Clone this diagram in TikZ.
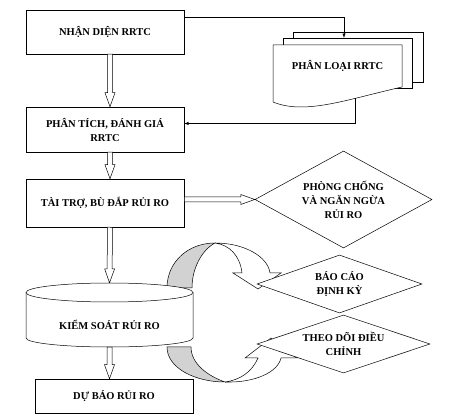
\documentclass[tikz,border=0pt]{standalone}
\usepackage{fontspec}
\setmainfont{Liberation Serif}
\usetikzlibrary{arrows,calc,shapes.geometric}

\tikzset{
  box/.style={draw,line width=0.5pt,fill=white,minimum width=158pt,align=center,
    inner sep=2pt,font=\bfseries\fontsize{10.5}{14}\selectfont},
  choice/.style={draw,diamond,line width=0.5pt,fill=white,align=center,inner sep=1pt,
    font=\bfseries\fontsize{10.5}{14}\selectfont},
  hollow/.style={draw,fill=white,line width=0.5pt},
  band/.style={draw,line width=0.5pt}
}

% open double-line arrow from #1 to #2
\newcommand{\hollowarrow}[2]{%
  \path[hollow] let \p1=(#1), \p2=(#2), \n1={atan2(\y2-\y1,\x2-\x1)},
    \n2={veclen(\x2-\x1,\y2-\y1)} in [shift={(\p2)},rotate=\n1]
    (0pt,0pt) -- (-14pt,5pt) -- (-14pt,2.5pt) -- (-\n2,2.5pt) -- (-\n2,-2.5pt)
    -- (-14pt,-2.5pt) -- (-14pt,-5pt) -- cycle;}

\begin{document}
\begin{tikzpicture}[x=1pt,y=-1pt]
\useasboundingbox (0,0) rectangle (461,419);

\node[box,minimum height=44pt] (nhandien) at (105,32) {NHẬN DIỆN RRTC};
\node[box,minimum height=45pt] (phantich) at (105,129.5) {PHÂN TÍCH, ĐÁNH GIÁ\\RRTC};
\node[box,minimum height=48pt] (taitro) at (105,203) {TÀI TRỢ, BÙ ĐẮP RỦI RO};
\node[box,minimum height=34pt] (dubao) at (114,396) {DỰ BÁO RỦI RO};

% stacked pages
\filldraw[fill=white,line width=0.5pt] (293,32) rectangle (423,82);
\filldraw[fill=white,line width=0.5pt] (283,38) rectangle (412,88);
\filldraw[fill=white,line width=0.5pt] (273,45) -- (402,45) -- (402,87)
  .. controls (345,100) and (305,115) .. coordinate[pos=0.3] (docbot) (273,102) -- cycle;
\node[font=\bfseries\fontsize{10.5}{14}\selectfont,minimum width=129pt,minimum height=42pt]
  (phanloai) at (337.5,66) {PHÂN LOẠI RRTC};
\coordinate (pagetop) at (344,38);

\draw[-latex,line width=0.5pt] ([yshift=15pt]nhandien.east) -| (pagetop);
\draw[-latex,line width=0.5pt] (docbot) |- ([yshift=6pt]phantich.east);

% curved arrows
\filldraw[band,fill=gray!35] (167,288) .. controls (167,262) and (188,243) .. (215,243)
  .. controls (202,250) and (192,268) .. (192,288) -- cycle;
\filldraw[band,fill=white] (215,243) .. controls (245,243) and (268,257) .. (270,273)
  -- (281,273) -- (258,289) -- (233,273) -- (242,273)
  .. controls (240,256) and (230,245) .. (215,243) -- cycle;
\filldraw[band,fill=gray!35] (167,347) .. controls (167,368) and (195,382) .. (225,382)
  .. controls (208,376) and (191,364) .. (191,347) -- cycle;
\filldraw[band,fill=white] (225,382) .. controls (255,383) and (278,372) .. (281,358)
  -- (297,358) -- (271,338) -- (245,358) -- (258,358)
  .. controls (252,372) and (240,380) .. (225,382) -- cycle;

% cylinder
\filldraw[fill=white,line width=0.5pt] (26,292.5) -- (26,338)
  arc[start angle=180,end angle=360,x radius=83.5pt,y radius=9pt] -- (193,292.5)
  arc[start angle=0,end angle=180,x radius=83.5pt,y radius=9.5pt] -- cycle;
\draw[line width=0.5pt] (26,292.5) arc[start angle=180,end angle=360,x radius=83.5pt,y radius=9.5pt];
\node[font=\bfseries\fontsize{10.5}{14}\selectfont,minimum width=167pt,minimum height=45pt]
  (kiemsoat) at (109.5,324.5) {KIỂM SOÁT RỦI RO};

\node[choice,aspect=1.8,minimum width=177pt,minimum height=97pt] (phongchong) at (343.5,199.5)
  {PHÒNG CHỐNG\\VÀ NGĂN NGỪA\\RỦI RO};
\node[choice,aspect=2.85,minimum width=165pt,minimum height=58pt] (baocao) at (339.5,284)
  {BÁO CÁO\\ĐỊNH KỲ};
\node[choice,aspect=3,minimum width=173pt,minimum height=58pt] (theodoi) at (343.5,344)
  {THEO DÕI ĐIỀU\\CHỈNH};

\hollowarrow{[xshift=5pt]nhandien.south}{[xshift=5pt]phantich.north}
\hollowarrow{[xshift=5pt]phantich.south}{[xshift=5pt]taitro.north}
\hollowarrow{[xshift=5pt]taitro.south}{[yshift=19pt]kiemsoat.north}
\hollowarrow{kiemsoat.south}{[xshift=-4.5pt]dubao.north}
\hollowarrow{taitro.east |- phongchong.west}{phongchong.west}
\end{tikzpicture}
\end{document}
